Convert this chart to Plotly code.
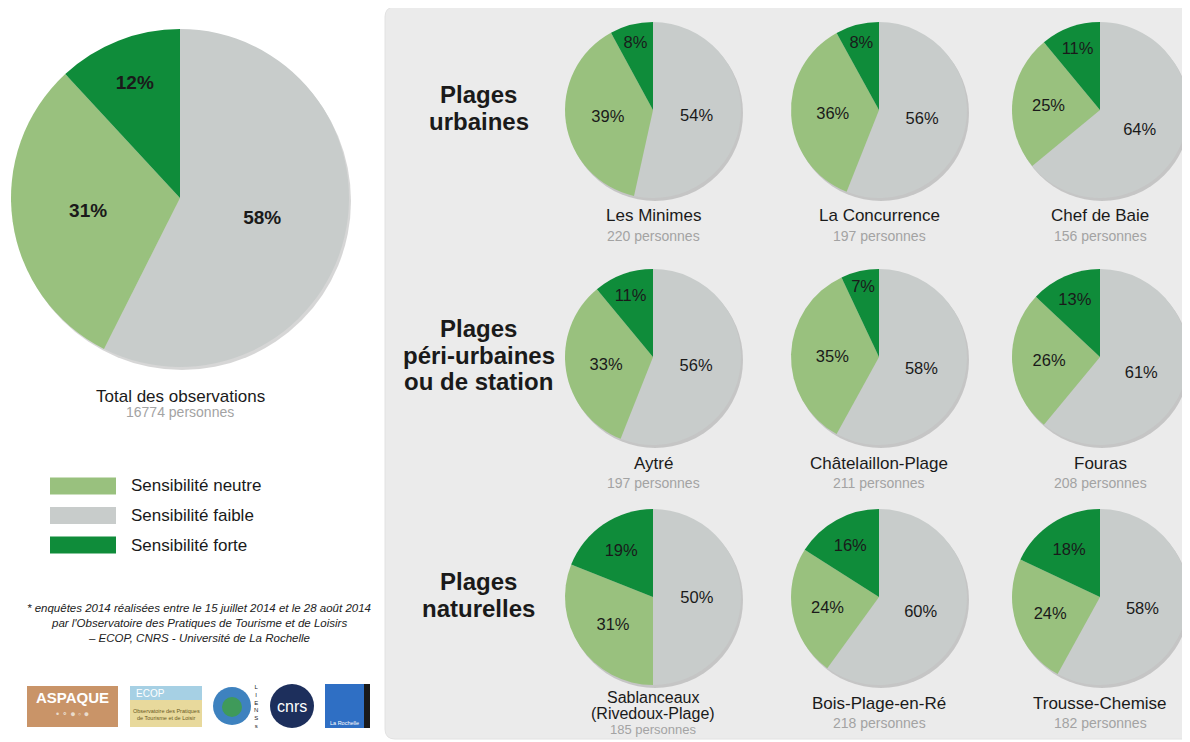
import plotly.graph_objects as go

W, H = 1190, 742
OFF = 8  # the page body keeps an 8px margin, so the figure is shifted by that
PW, PH = W - OFF, H - OFF
FONT = 'Liberation Sans, Arial, Helvetica, sans-serif'

# slice order follows the drawing: faible from 12 o'clock clockwise, then neutre, then forte
categories = ['Sensibilité faible', 'Sensibilité neutre', 'Sensibilité forte']
colors = ['#c8cccb', '#99c17e', '#0f8c3a']
legend_order = ['Sensibilité neutre', 'Sensibilité faible', 'Sensibilité forte']

total_label = 'Total des observations'
total_respondents = 16774
total_values = [58, 31, 12]

beaches = ['Les Minimes', 'La Concurrence', 'Chef de Baie',
           'Aytré', 'Châtelaillon-Plage', 'Fouras',
           'Sablanceaux\n(Rivedoux-Plage)', 'Bois-Plage-en-Ré', 'Trousse-Chemise']
respondents = [220, 197, 156, 197, 211, 208, 185, 218, 182]
faible = [54, 56, 64, 56, 58, 61, 50, 60, 58]
neutre = [39, 36, 25, 33, 35, 26, 31, 24, 24]
forte = [8, 8, 11, 11, 7, 13, 19, 16, 18]

groups = [['Plages', 'urbaines'],
          ['Plages', 'péri-urbaines', 'ou de station'],
          ['Plages', 'naturelles']]

footnote = ["* enquêtes 2014 réalisées entre le 15 juillet 2014 et le 28 août 2014",
            "par l'Observatoire des Pratiques de Tourisme et de Loisirs",
            "– ECOP, CNRS - Université de La Rochelle"]


def px(x):
    return (x - OFF) / PW


def py(y):
    return 1 - (y - OFF) / PH


def dom(cx, cy, r):
    return dict(x=[max(0, px(cx - r)), min(1, px(cx + r))],
                y=[max(0, py(cy + r)), min(1, py(cy - r))])


fig = go.Figure()
annotations = []
shapes = []


def add_pie(values, cx, cy, r, size, bold):
    # soft drop shadow
    fig.add_trace(go.Pie(values=[1], domain=dom(cx + 2, cy + 3, r),
                         marker=dict(colors=['rgba(0,0,0,0.16)'], line=dict(width=0)),
                         textinfo='none', hoverinfo='skip', sort=False, showlegend=False))
    tmpl = '<b>%{value}%</b>' if bold else '%{value}%'
    fig.add_trace(go.Pie(labels=categories, values=values, domain=dom(cx, cy, r),
                         sort=False, direction='clockwise', rotation=0,
                         marker=dict(colors=colors, line=dict(width=0)),
                         texttemplate=tmpl, textposition='inside',
                         insidetextorientation='horizontal',
                         insidetextfont=dict(size=size, color='#1a1a1a', family=FONT),
                         showlegend=False))


def text(x, y, s, size, color='#1a1a1a', bold=False, italic=False, xanchor='center'):
    if bold:
        s = '<b>' + s + '</b>'
    if italic:
        s = '<i>' + s + '</i>'
    annotations.append(dict(x=px(x), y=py(y), xref='paper', yref='paper', text=s,
                            showarrow=False, xanchor=xanchor, yanchor='middle',
                            font=dict(size=size, color=color, family=FONT)))


# grey panel behind the beach pies
x0, x1, top, bot, rad = px(385), 1.01, py(7), py(739), 10
rx, ry = rad / PW, rad / PH
shapes.append(dict(type='path', xref='paper', yref='paper',
                   path=f'M {x0 + rx},{top} L {x1},{top} L {x1},{bot} L {x0 + rx},{bot} '
                        f'Q {x0},{bot} {x0},{bot + ry} L {x0},{top - ry} Q {x0},{top} {x0 + rx},{top} Z',
                   fillcolor='#ebebeb', line=dict(color='#e2e2e2', width=1), layer='below'))

# overall pie
add_pie(total_values, 180, 198, 169, 19, True)
text(180, 396, total_label, 17)
text(180, 412, f'{total_respondents} personnes', 14, color='#a3a3a3')

# legend
for i, lab in enumerate(legend_order):
    yc = 486 + i * 29.5
    shapes.append(dict(type='rect', xref='paper', yref='paper',
                       x0=px(50), x1=px(116), y0=py(yc + 8.5), y1=py(yc - 8.5),
                       fillcolor=colors[categories.index(lab)], line=dict(width=0)))
    text(129, yc, lab, 17, xanchor='left')

for i, line in enumerate(footnote):
    text(199, 608 + i * 15, line, 11.5, color='#222222', italic=True)

# beach pies 3 x 3
col_x = [653, 879, 1100]
row_y = [110, 357, 597]
r_small = 88
for i, name in enumerate(beaches):
    cx, cy = col_x[i % 3], row_y[i // 3]
    add_pie([faible[i], neutre[i], forte[i]], cx, cy, r_small, 16.5, False)
    lines = name.split('\n')
    base = cy + r_small + 18
    if len(lines) == 1:
        text(cx, base, lines[0], 17)
        text(cx, base + 20, f'{respondents[i]} personnes', 14, color='#a3a3a3')
    else:
        # two-line name: tighter lines so the count stays inside the page
        for j, ln in enumerate(lines):
            text(cx, base - 6 + 16.5 * j, ln, 16)
        text(cx, base - 6 + 16.5 * len(lines) - 1, f'{respondents[i]} personnes', 13, color='#a3a3a3')

for k, g in enumerate(groups):
    c = row_y[k] - 2
    for j, ln in enumerate(g):
        text(479, c + (j - (len(g) - 1) / 2) * 26.5, ln, 24, bold=True)


# partner logos (simplified)
def box(xa, ya, xb, yb, color, kind='rect'):
    shapes.append(dict(type=kind, xref='paper', yref='paper', x0=px(xa), x1=px(xb),
                       y0=py(yb), y1=py(ya), fillcolor=color, line=dict(width=0)))


box(27, 686, 118, 727, '#c99468')
text(72, 697, 'ASPAQUE', 15, color='white', bold=True)
text(72, 714, '• ∘ ● ◦ ●', 9, color='#eadccc')
box(130, 686, 202, 727, '#e8d99c')
box(130, 686, 202, 700, '#a6d0e4')
text(134, 693, 'ECOP', 10, color='white', xanchor='left')
text(166, 711, 'Observatoire des Pratiques', 5.5, color='#6b5a1e')
text(166, 718, 'de Tourisme et de Loisir', 5.5, color='#6b5a1e')
box(213, 687, 251, 725, '#3e82bf', kind='circle')
box(222, 697, 242, 717, '#3f9a5a', kind='circle')
text(256, 706, 'L<br>I<br>E<br>N<br>S<br>s', 6, color='#222222')
box(270, 684, 314, 728, '#1d2f5c', kind='circle')
text(292, 706, 'cnrs', 16, color='white')
box(325, 684, 370, 728, '#2f6fc4')
box(364, 684, 370, 728, '#1a1a1a')
text(344, 723, 'La Rochelle', 5.5, color='white')

fig.update_layout(
    width=PW, height=PH,
    margin=dict(l=0, r=0, t=0, b=0),
    paper_bgcolor='white', plot_bgcolor='white',
    font=dict(family=FONT),
    showlegend=False,
    shapes=shapes,
    annotations=annotations,
)

fig.write_html('out.html')
